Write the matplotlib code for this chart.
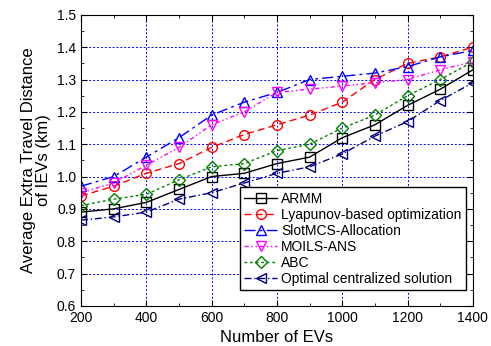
import matplotlib.pyplot as plt
from matplotlib.ticker import MultipleLocator

plt.rcParams['font.family'] = ['Liberation Sans', 'DejaVu Sans']

evs = [200, 300, 400, 500, 600, 700, 800, 900, 1000, 1100, 1200, 1300, 1400]
armm = [0.89, 0.90, 0.92, 0.96, 1.00, 1.01, 1.04, 1.06, 1.12, 1.16, 1.22, 1.27, 1.33]
lyapunov = [0.94, 0.97, 1.01, 1.04, 1.09, 1.13, 1.16, 1.19, 1.23, 1.30, 1.35, 1.37, 1.40]
slotmcs = [0.97, 1.00, 1.06, 1.12, 1.19, 1.23, 1.26, 1.30, 1.31, 1.32, 1.34, 1.37, 1.39]
moils = [0.95, 0.98, 1.035, 1.09, 1.16, 1.20, 1.26, 1.27, 1.28, 1.29, 1.30, 1.33, 1.355]
abc = [0.91, 0.93, 0.945, 0.99, 1.03, 1.04, 1.08, 1.10, 1.15, 1.19, 1.25, 1.30, 1.355]
optimal = [0.865, 0.875, 0.89, 0.93, 0.95, 0.98, 1.01, 1.03, 1.07, 1.125, 1.17, 1.235, 1.29]

fig = plt.figure(figsize=(4.91, 3.46), dpi=100)
ax = fig.add_axes([0.165, 0.116, 0.798, 0.841])

mk = dict(markersize=7, markerfacecolor='none', linewidth=1.0, markeredgewidth=1.0)
ax.plot(evs, armm, color='black', linestyle='-', marker='s', label='ARMM', **mk)
ax.plot(evs, lyapunov, color='red', linestyle=(0, (5, 3)), marker='o', label='Lyapunov-based optimization', **mk)
ax.plot(evs, slotmcs, color='blue', linestyle=(0, (8, 3, 2, 3)), marker='^', label='SlotMCS-Allocation', **mk)
ax.plot(evs, moils, color='magenta', linestyle=(0, (3, 2, 1, 2, 1, 2)), marker='v', label='MOILS-ANS', **mk)
ax.plot(evs, abc, color='green', linestyle=(0, (2, 2)), marker='D', label='ABC', markersize=6,
        markerfacecolor='none', linewidth=1.0, markeredgewidth=1.0)
ax.plot(evs, optimal, color='navy', linestyle=(0, (5, 2, 1, 2)), marker='<', label='Optimal centralized solution', **mk)

ax.set_xlim(200, 1400)
ax.set_ylim(0.6, 1.5)
ax.xaxis.set_major_locator(MultipleLocator(200))
ax.xaxis.set_minor_locator(MultipleLocator(100))
ax.yaxis.set_major_locator(MultipleLocator(0.1))
ax.yaxis.set_minor_locator(MultipleLocator(0.05))
ax.tick_params(which='both', direction='in', top=True, right=True, labelsize=10)
ax.tick_params(which='major', length=4)
ax.tick_params(which='minor', length=2)
ax.set_yticklabels([f'{v:.1f}' for v in ax.get_yticks()])
ax.grid(True, which='major', color='blue', linestyle=(0, (2, 2)), linewidth=0.7)

ax.set_xlabel('Number of EVs', fontsize=12)
ax.set_ylabel('Average Extra Travel Distance\nof IEVs (km)', fontsize=12, linespacing=1.0)

leg = ax.legend(loc='lower right', fontsize=10, fancybox=False, framealpha=1,
                edgecolor='black', borderpad=0.3, labelspacing=0.15, handlelength=2.4,
                handletextpad=0.3, bbox_to_anchor=(1.0, 0.03))
leg.get_frame().set_linewidth(1.0)

fig.savefig('out.png', dpi=100)
